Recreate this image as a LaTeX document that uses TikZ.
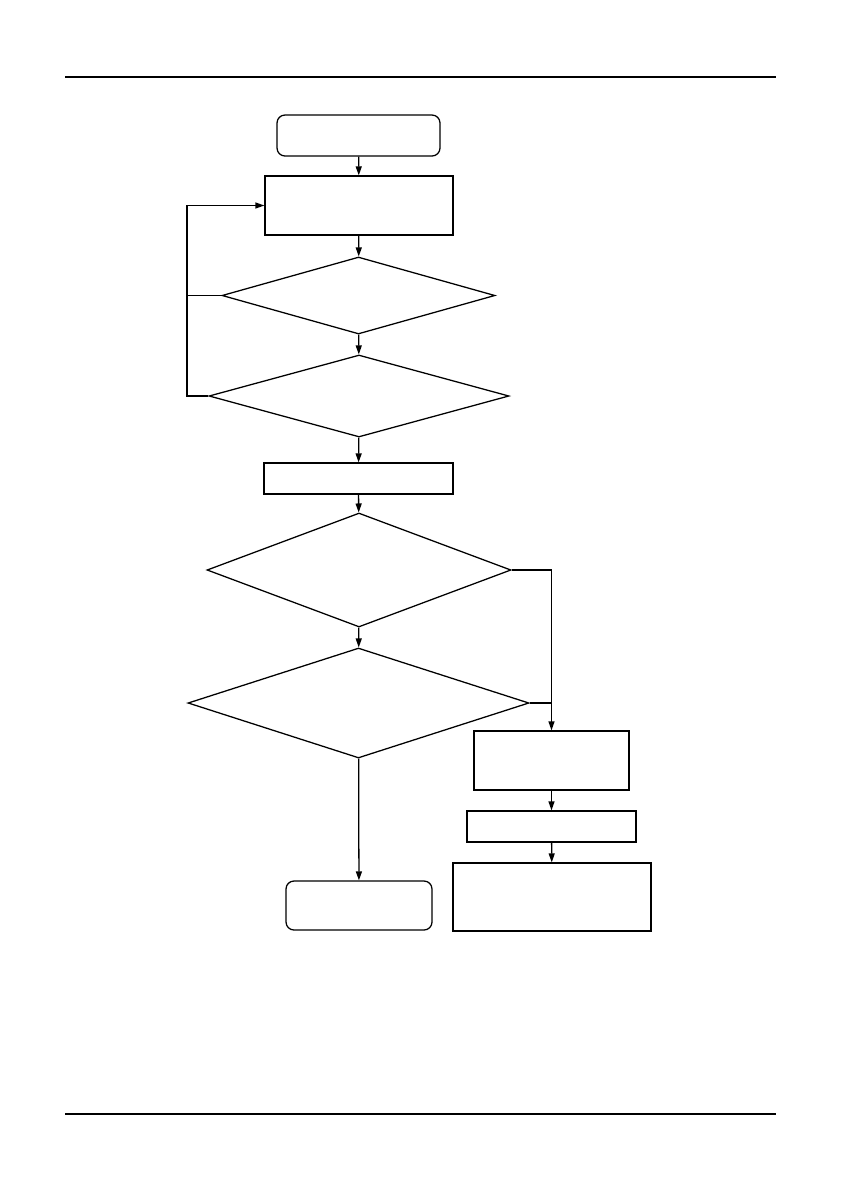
\documentclass[tikz,border=0pt]{standalone}
\usetikzlibrary{shapes.geometric,arrows.meta}
\def\px{0.7067pt}
\begin{document}
\begin{tikzpicture}[x=0.7067pt, y=-0.7067pt, line width=0.9pt,
    term/.style={draw, rounded corners=8*\px, inner sep=0pt},
    proc/.style={draw, inner sep=0pt},
    cond/.style={draw, diamond, inner sep=0pt},
    arr/.style={-{Triangle[length=9*\px, width=6*\px]}}]
    \useasboundingbox (0,0) rectangle (842,1190);
    % page rules
    \draw[line width=2pt] (65,77) -- (776,77);
    \draw[line width=1pt] (65,1114) -- (776,1114);

    % main column
    \node[term, minimum width=163*\px, minimum height=41*\px] (start) at (358.5,135.5) {};
    \node[proc, minimum width=188*\px, minimum height=59*\px] (init) at (359,205.5) {};
    \node[cond, minimum width=273*\px, minimum height=77*\px] (ckA) at (358.5,295.5) {};
    \node[cond, minimum width=300*\px, minimum height=82*\px] (ckB) at (359,396) {};
    \node[proc, minimum width=189*\px, minimum height=31*\px] (read) at (358.5,478.5) {};
    \node[cond, minimum width=304*\px, minimum height=114*\px] (ckC) at (359,570) {};
    \node[cond, minimum width=341*\px, minimum height=110*\px] (ckD) at (358.5,703) {};
    \node[term, minimum width=146*\px, minimum height=49*\px] (stop) at (359,905.5) {};

    % right column
    \node[proc, minimum width=155*\px, minimum height=59*\px] (fail) at (551.5,760.5) {};
    \node[proc, minimum width=169*\px, minimum height=31*\px] (flag) at (551.5,826.5) {};
    \node[proc, minimum width=198*\px, minimum height=68*\px] (hold) at (552,897) {};

    % straight links
    \draw[arr] (start) -- (init);
    \draw[arr] (init) -- (ckA);
    \draw[arr] (ckA) -- (ckB);
    \draw[arr] (ckB) -- (read);
    \draw[arr] (read) -- (ckC);
    \draw[arr] (ckC) -- (ckD);
    \draw[arr] (ckD) -- (stop);
    \draw[arr] (fail) -- (flag);
    \draw[arr] (flag) -- (hold);

    % loop back on the left
    \coordinate (loop) at (187,0);
    \draw (ckA.west) -- (ckA.west -| loop);
    \draw[arr] (ckB.west) -- (ckB.west -| loop) |- (init.west);

    % branch on the right
    \draw[arr] (ckC.east) -| (fail.north);
    \draw (ckD.east) -- (ckD.east -| fail.north);
\end{tikzpicture}
\end{document}
